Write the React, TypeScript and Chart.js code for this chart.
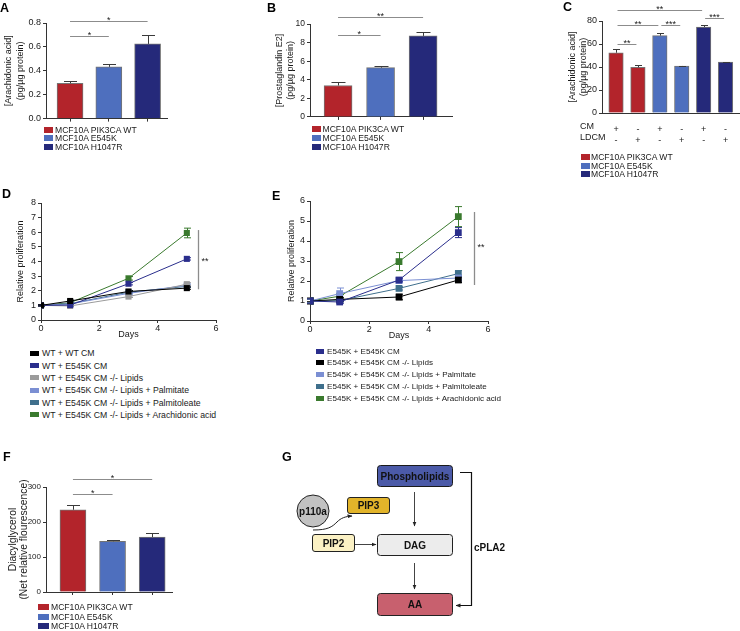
import React, { useEffect, useRef } from 'react';
import { Chart, registerables } from 'chart.js';
Chart.register(...registerables);

const FONT = '"Liberation Sans", Arial, Helvetica, sans-serif';
const INK = '#1a1a1a';
const AXIS = '#333333';

// ---------- shared ----------
const cellLines = ['MCF10A PIK3CA WT', 'MCF10A E545K', 'MCF10A H1047R'];
const RED = '#b3242b';
const BLUE = '#4e6fbe';
const NAVY = '#25297a';
const cellColors = [RED, BLUE, NAVY];

// ---------- panel A ----------
const aValues = [0.296, 0.433, 0.625];
const aErrors = [0.016, 0.027, 0.071];
const aYTicks = [0, 0.2, 0.4, 0.6, 0.8];
const aSig = [
  { from: 0, to: 1, at: 0.69, label: '*' },
  { from: 0, to: 2, at: 0.82, label: '*' },
];
const aYTitle = ['[Arachidonic acid]', '(pg/µg protein)'];

// ---------- panel B ----------
const bValues = [3.38, 5.3, 8.72];
const bErrors = [0.42, 0.22, 0.38];
const bYTicks = [0, 2, 4, 6, 8, 10];
const bSig = [
  { from: 0, to: 1, at: 8.83, label: '*' },
  { from: 0, to: 2, at: 10.78, label: '**' },
];
const bYTitle = ['[Prostaglandin E2]', '(pg/µg protein)'];

// ---------- panel C ----------
const cValues = [52.4, 39.7, 67.3, 40.9, 74.8, 44.3];
const cErrors = [3.6, 1.7, 2.7, 0.3, 2.0, 0.3];
const cColors = [RED, RED, BLUE, BLUE, NAVY, NAVY];
const cCM = ['+', '-', '+', '-', '+', '-'];
const cLDCM = ['-', '+', '-', '+', '-', '+'];
const cRowNames = ['CM', 'LDCM'];
const cYTicks = [0, 20, 40, 60, 80];
const cSig = [
  { from: 0, to: 1, at: 60.4, label: '**' },
  { from: 0, to: 2, at: 76.3, label: '**' },
  { from: 2, to: 3, at: 76.3, label: '***' },
  { from: 0, to: 4, at: 89.8, label: '**' },
  { from: 4, to: 5, at: 82.9, label: '***' },
];
const cYTitle = ['[Arachidonic acid]', '(pg/µg protein)'];

// ---------- panel D ----------
const days = [0, 1, 3, 5];
const dayTicks = [0, 2, 4, 6];
const dYTicks = [0, 1, 2, 3, 4, 5, 6, 7, 8];
const dLabels = [
  'WT + WT CM',
  'WT + E545K CM',
  'WT + E545K CM -/- Lipids',
  'WT + E545K CM -/- Lipids + Palmitate',
  'WT + E545K CM -/- Lipids + Palmitoleate',
  'WT + E545K CM -/- Lipids + Arachidonic acid',
];
const dColors = ['#000000', '#2a2e8c', '#9b9b9b', '#7b8fd3', '#3f6f8c', '#3a7a2e'];
const dWtCm = [1, 1.3, 1.95, 2.18];
const dE545kCm = [1, 1.02, 2.48, 4.18];
const dLipids = [1, 0.96, 1.6, 2.45];
const dPalmitate = [1, 1.1, 1.82, 2.38];
const dPalmitoleate = [1, 1.12, 1.9, 2.3];
const dArachidonic = [1, 1.18, 2.85, 5.95];
const dWtCmErr = [0.04, 0.06, 0.06, 0.08];
const dE545kCmErr = [0.04, 0.05, 0.08, 0.08];
const dLipidsErr = [0.04, 0.05, 0.06, 0.1];
const dPalmitateErr = [0.04, 0.05, 0.06, 0.08];
const dPalmitoleateErr = [0.04, 0.05, 0.06, 0.08];
const dArachidonicErr = [0.04, 0.06, 0.12, 0.33];
const dSig = { x: 5.38, from: 2.1, to: 6.15, labelAt: 4.2, label: '**' };

// ---------- panel E ----------
const eYTicks = [0, 1, 2, 3, 4, 5, 6];
const eLabels = [
  'E545K + E545K CM',
  'E545K + E545K CM -/- Lipids',
  'E545K + E545K CM -/- Lipids + Palmitate',
  'E545K + E545K CM -/- Lipids + Palmitoleate',
  'E545K + E545K CM -/- Lipids + Arachidonic acid',
];
const eColors = ['#2a2e8c', '#000000', '#7b8fd3', '#3f6f8c', '#3a7a2e'];
const eE545kCm = [1, 0.95, 2.05, 4.42];
const eLipids = [1, 1.08, 1.2, 2.05];
const ePalmitate = [1, 1.37, 2.02, 2.15];
const ePalmitoleate = [1, 1.02, 1.63, 2.37];
const eArachidonic = [1, 1.24, 2.97, 5.22];
const eE545kCmErr = [0.1, 0.06, 0.08, 0.25];
const eLipidsErr = [0.15, 0.08, 0.14, 0.12];
const ePalmitateErr = [0.12, 0.28, 0.08, 0.15];
const ePalmitoleateErr = [0.1, 0.06, 0.08, 0.15];
const eArachidonicErr = [0.1, 0.08, 0.45, 0.5];
const eSig = { x: 5.53, from: 1.8, to: 5.45, labelAt: 3.8, label: '**' };

// ---------- panel F ----------
const fValues = [235, 145, 157];
const fErrors = [15, 3, 11.6];
const fYTicks = [0, 100, 200, 300];
const fSig = [
  { from: 0, to: 1, at: 280, label: '*' },
  { from: 0, to: 2, at: 323, label: '*' },
];
const fYTitle = ['Diacylglycerol', '(Net relative flourescence)'];

type Box = { left: number; top: number; width: number; height: number };
type Area = { l: number; t: number; r: number; b: number };
type Sig = { from: number; to: number; at: number; label: string };

function layout(box: Box, area: Area, titleX: number, titleLH: number, hx: number) {
  const padLeft = titleX - box.left - titleLH / 2;
  return {
    padding: {
      left: padLeft,
      top: area.t - box.top,
      right: box.left + box.width - area.r,
      bottom: box.top + box.height - area.b - hx,
    },
    wy: area.l - box.left - padLeft,
  };
}

function barConfig(p: {
  box: Box; area: Area; values: number[]; errors: number[]; colors: string[];
  yTicks: number[]; decimals: number; sig: Sig[]; yTitle: string[]; titleX: number; titleLH: number;
  titleSize: number; tickSize: number; barW: number; capW: number; xMin: number; xMax: number; hx: number;
  xTickMarks: boolean; xLabels?: string[][]; xLabelPad?: number; xLabelLH?: number; sigInset: number; sigFont: number;
}): any {
  const L = layout(p.box, p.area, p.titleX, p.titleLH, p.hx);
  const idx = p.values.map((_, i) => i);
  const extras = {
    id: 'barExtras',
    afterDatasetsDraw(chart: any) {
      const { ctx } = chart;
      const x = chart.scales.x;
      const y = chart.scales.y;
      ctx.save();
      ctx.strokeStyle = '#3a3a3a';
      ctx.lineWidth = 1;
      p.values.forEach((v, i) => {
        const px = Math.round(x.getPixelForValue(i)) + 0.5;
        const y0 = y.getPixelForValue(v);
        const y1 = Math.round(y.getPixelForValue(v + p.errors[i])) + 0.5;
        ctx.beginPath();
        ctx.moveTo(px, y0);
        ctx.lineTo(px, y1);
        ctx.moveTo(px - p.capW / 2, y1);
        ctx.lineTo(px + p.capW / 2, y1);
        ctx.stroke();
      });
      ctx.strokeStyle = '#8c8c8c';
      ctx.fillStyle = INK;
      ctx.font = `${p.sigFont}px ${FONT}`;
      ctx.textAlign = 'center';
      ctx.textBaseline = 'alphabetic';
      p.sig.forEach((s) => {
        const xa = x.getPixelForValue(s.from) + p.sigInset;
        const xb = x.getPixelForValue(s.to) - p.sigInset;
        const py = Math.round(y.getPixelForValue(s.at)) + 0.5;
        ctx.beginPath();
        ctx.moveTo(xa, py);
        ctx.lineTo(xb, py);
        ctx.stroke();
        ctx.fillText(s.label, (xa + xb) / 2, py + 1.5);
      });
      ctx.restore();
    },
  };
  return {
    type: 'bar',
    data: {
      datasets: [
        {
          data: p.values.map((v, i) => ({ x: i, y: v })),
          backgroundColor: p.colors,
          borderColor: 'rgba(70,70,70,0.75)',
          borderWidth: 1,
          barThickness: p.barW,
        },
      ],
    },
    plugins: [extras],
    options: {
      responsive: false,
      maintainAspectRatio: false,
      animation: false,
      devicePixelRatio: 1,
      layout: { padding: L.padding },
      plugins: { legend: { display: false }, tooltip: { enabled: false } },
      scales: {
        x: {
          type: 'linear',
          min: p.xMin,
          max: p.xMax,
          offset: false,
          grid: { display: p.xTickMarks, drawOnChartArea: false, drawTicks: true, tickLength: 3, color: AXIS, offset: false },
          border: { display: true, color: AXIS, width: 1 },
          ticks: {
            display: !!p.xLabels,
            autoSkip: false,
            maxRotation: 0,
            padding: p.xLabelPad || 0,
            color: INK,
            font: { family: FONT, size: p.tickSize, lineHeight: p.xLabelLH || 1.2 },
            callback: (v: any) => (p.xLabels ? p.xLabels[v] : ''),
          },
          afterBuildTicks: (s: any) => {
            s.ticks = idx.map((v) => ({ value: v }));
          },
          afterFit: (s: any) => {
            s.height = p.hx;
          },
        },
        y: {
          type: 'linear',
          min: p.yTicks[0],
          max: p.yTicks[p.yTicks.length - 1],
          grid: { drawOnChartArea: false, drawTicks: true, tickLength: 3, color: AXIS },
          border: { display: true, color: AXIS, width: 1 },
          ticks: {
            padding: 2,
            color: INK,
            font: { family: FONT, size: p.tickSize },
            callback: (v: any) => Number(v).toFixed(p.decimals),
          },
          afterBuildTicks: (s: any) => {
            s.ticks = p.yTicks.map((v) => ({ value: v }));
          },
          afterFit: (s: any) => {
            s.width = L.wy;
          },
          title: {
            display: true,
            text: p.yTitle,
            color: INK,
            padding: 0,
            font: { family: FONT, size: p.titleSize, lineHeight: p.titleLH / p.titleSize },
          },
        },
      },
    },
  };
}

function lineConfig(p: {
  box: Box; area: Area; labels: string[]; colors: string[]; series: number[][]; errors: number[][];
  yTicks: number[]; titleX: number; titleLH: number; hx: number; pointR: number;
  sig: { x: number; from: number; to: number; labelAt: number; label: string };
}): any {
  const L = layout(p.box, p.area, p.titleX, p.titleLH, p.hx);
  const extras = {
    id: 'lineExtras',
    beforeDatasetsDraw(chart: any) {
      const { ctx } = chart;
      const x = chart.scales.x;
      const y = chart.scales.y;
      ctx.save();
      ctx.lineWidth = 1;
      for (let s = p.series.length - 1; s >= 0; s--) {
        ctx.strokeStyle = p.colors[s];
        p.series[s].forEach((v, i) => {
          const e = p.errors[s][i];
          const px = Math.round(x.getPixelForValue(days[i])) + 0.5;
          const ya = y.getPixelForValue(v + e);
          const yb = y.getPixelForValue(v - e);
          ctx.beginPath();
          ctx.moveTo(px, ya);
          ctx.lineTo(px, yb);
          ctx.moveTo(px - 3.5, ya);
          ctx.lineTo(px + 3.5, ya);
          ctx.moveTo(px - 3.5, yb);
          ctx.lineTo(px + 3.5, yb);
          ctx.stroke();
        });
      }
      ctx.restore();
    },
    afterDatasetsDraw(chart: any) {
      const { ctx } = chart;
      const x = chart.scales.x;
      const y = chart.scales.y;
      ctx.save();
      const px = Math.round(x.getPixelForValue(p.sig.x)) + 0.5;
      ctx.strokeStyle = '#8c8c8c';
      ctx.lineWidth = 1.3;
      ctx.beginPath();
      ctx.moveTo(px, y.getPixelForValue(p.sig.to));
      ctx.lineTo(px, y.getPixelForValue(p.sig.from));
      ctx.stroke();
      ctx.fillStyle = INK;
      ctx.font = `9px ${FONT}`;
      ctx.textAlign = 'left';
      ctx.textBaseline = 'alphabetic';
      ctx.fillText(p.sig.label, px + 3, y.getPixelForValue(p.sig.labelAt) + 5);
      ctx.restore();
    },
  };
  return {
    type: 'line',
    data: {
      datasets: p.series.map((vals, s) => ({
        label: p.labels[s],
        data: vals.map((v, i) => ({ x: days[i], y: v })),
        borderColor: p.colors[s],
        backgroundColor: p.colors[s],
        pointBackgroundColor: p.colors[s],
        pointBorderColor: p.colors[s],
        pointBorderWidth: 0,
        borderWidth: 1,
        pointStyle: 'rect',
        pointRadius: p.pointR,
        tension: 0,
      })),
    },
    plugins: [extras],
    options: {
      responsive: false,
      maintainAspectRatio: false,
      animation: false,
      devicePixelRatio: 1,
      layout: { padding: L.padding },
      plugins: { legend: { display: false }, tooltip: { enabled: false } },
      scales: {
        x: {
          type: 'linear',
          min: dayTicks[0],
          max: dayTicks[dayTicks.length - 1],
          grid: { drawOnChartArea: false, drawTicks: true, tickLength: 3, color: AXIS },
          border: { display: true, color: AXIS, width: 1 },
          ticks: { padding: 0, color: INK, font: { family: FONT, size: 9 }, maxRotation: 0, autoSkip: false },
          afterBuildTicks: (s: any) => {
            s.ticks = dayTicks.map((v) => ({ value: v }));
          },
          afterFit: (s: any) => {
            s.height = p.hx;
          },
          title: { display: true, text: 'Days', color: INK, padding: 0, font: { family: FONT, size: 9, lineHeight: 11 / 9 } },
        },
        y: {
          type: 'linear',
          min: p.yTicks[0],
          max: p.yTicks[p.yTicks.length - 1],
          grid: { drawOnChartArea: false, drawTicks: true, tickLength: 3, color: AXIS },
          border: { display: true, color: AXIS, width: 1 },
          ticks: { padding: 2, color: INK, font: { family: FONT, size: 9 } },
          afterBuildTicks: (s: any) => {
            s.ticks = p.yTicks.map((v) => ({ value: v }));
          },
          afterFit: (s: any) => {
            s.width = L.wy;
          },
          title: {
            display: true,
            text: 'Relative proliferation',
            color: INK,
            padding: 0,
            font: { family: FONT, size: 9, lineHeight: p.titleLH / 9 },
          },
        },
      },
    },
  };
}

function ChartCanvas({ box, make }: { box: Box; make: () => any }) {
  const ref = useRef<HTMLCanvasElement>(null);
  useEffect(() => {
    const chart = new Chart(ref.current as HTMLCanvasElement, make());
    return () => chart.destroy();
  }, []);
  return (
    <canvas
      ref={ref}
      width={box.width}
      height={box.height}
      style={{ position: 'absolute', left: box.left, top: box.top, width: box.width, height: box.height }}
    />
  );
}

function Legend(p: { labels: string[]; colors: string[]; x: number; y0: number; step: number; size: number; sw: number; sh: number; gap: number }) {
  return (
    <>
      {p.labels.map((l, i) => (
        <div
          key={i}
          style={{
            position: 'absolute',
            left: p.x,
            top: p.y0 + i * p.step - 7,
            height: 14,
            display: 'flex',
            alignItems: 'center',
            whiteSpace: 'nowrap',
            fontFamily: FONT,
            fontSize: p.size,
            color: INK,
          }}
        >
          <span style={{ display: 'inline-block', width: p.sw, height: p.sh, background: p.colors[i], marginRight: p.gap }} />
          {l}
        </div>
      ))}
    </>
  );
}

function PanelLetter({ t, x, capTop }: { t: string; x: number; capTop: number }) {
  return (
    <div style={{ position: 'absolute', left: x, top: capTop - 1.7, fontFamily: FONT, fontWeight: 'bold', fontSize: 12.5, lineHeight: '12.5px', color: '#000' }}>
      {t}
    </div>
  );
}

function Diagram() {
  const tx = { fontFamily: FONT, fontWeight: 700, fontSize: 10, fill: '#111' } as any;
  return (
    <svg width={740} height={631} style={{ position: 'absolute', left: 0, top: 0 }}>
      <defs>
        <marker id="ah" viewBox="0 0 10 10" refX="9" refY="5" markerWidth="5" markerHeight="5" orient="auto-start-reverse" markerUnits="userSpaceOnUse">
          <path d="M0,1 L10,5 L0,9 z" fill="#222" />
        </marker>
      </defs>
      <rect x={377.5} y={465.5} width={75} height={21} rx={3} fill="#4b5aa8" stroke="#1a1a1a" strokeWidth={1} />
      <text x={415} y={479.5} textAnchor="middle" {...tx}>Phospholipids</text>
      <polyline points="460,472.5 471.5,472.5 471.5,605.5 456,605.5" fill="none" stroke="#111" strokeWidth={1.2} markerEnd="url(#ah)" />
      <text x={474} y={550.5} {...tx}>cPLA2</text>
      <line x1={414.5} y1={492} x2={414.5} y2={526} stroke="#444" strokeWidth={1} markerEnd="url(#ah)" />
      <circle cx={313} cy={511} r={16} fill="#c2c2c2" stroke="#222" strokeWidth={1} />
      <text x={313} y={514.5} textAnchor="middle" {...tx}>p110a</text>
      <rect x={347.5} y={497.5} width={42} height={16} rx={2.5} fill="#e2b42a" stroke="#222" strokeWidth={1} />
      <text x={368.5} y={509} textAnchor="middle" {...tx}>PIP3</text>
      <path d="M313,530 C328,530 332,527 337,522 C341,518 345,516.5 352,516" fill="none" stroke="#222" strokeWidth={1} markerEnd="url(#ah)" />
      <rect x={312.5} y={534.5} width={42} height={17} rx={2.5} fill="#fbf1c4" stroke="#222" strokeWidth={1} />
      <text x={333.5} y={546.5} textAnchor="middle" {...tx}>PIP2</text>
      <line x1={355} y1={544.5} x2={376} y2={544.5} stroke="#444" strokeWidth={1} markerEnd="url(#ah)" />
      <rect x={377.5} y={534.5} width={75} height={21} rx={3} fill="#ececec" stroke="#222" strokeWidth={1} />
      <text x={415} y={548.5} textAnchor="middle" {...tx}>DAG</text>
      <line x1={414.5} y1={563} x2={414.5} y2={589} stroke="#444" strokeWidth={1} markerEnd="url(#ah)" />
      <rect x={377.5} y={593.5} width={75} height={22} rx={3} fill="#c8606e" stroke="#222" strokeWidth={1} />
      <text x={415} y={608} textAnchor="middle" {...tx}>AA</text>
    </svg>
  );
}

const boxA: Box = { left: 0, top: 0, width: 172, height: 126 };
const boxB: Box = { left: 262, top: 0, width: 195, height: 124 };
const boxC: Box = { left: 560, top: 0, width: 180, height: 145 };
const boxD: Box = { left: 0, top: 185, width: 225, height: 160 };
const boxE: Box = { left: 270, top: 185, width: 230, height: 160 };
const boxF: Box = { left: 0, top: 468, width: 178, height: 145 };

export default function App() {
  return (
    <div style={{ position: 'absolute', left: 0, top: 0, width: 740, height: 631, background: '#fff', overflow: 'hidden' }}>
      <ChartCanvas
        box={boxA}
        make={() =>
          barConfig({
            box: boxA, area: { l: 46, t: 23, r: 167, b: 120 }, values: aValues, errors: aErrors, colors: cellColors,
            yTicks: aYTicks, decimals: 1, sig: aSig, yTitle: aYTitle, titleX: 9, titleLH: 11.5, titleSize: 9,
            tickSize: 9, barW: 26, capW: 13, xMin: -0.62, xMax: 2.5, hx: 4, xTickMarks: true, sigInset: 0, sigFont: 9,
          })
        }
      />
      <ChartCanvas
        box={boxB}
        make={() =>
          barConfig({
            box: boxB, area: { l: 310, t: 24, r: 452, b: 118 }, values: bValues, errors: bErrors, colors: cellColors,
            yTicks: bYTicks, decimals: 0, sig: bSig, yTitle: bYTitle, titleX: 280, titleLH: 10.5, titleSize: 9,
            tickSize: 8.5, barW: 28, capW: 14, xMin: -0.66, xMax: 2.68, hx: 4, xTickMarks: true, sigInset: 0, sigFont: 9,
          })
        }
      />
      <ChartCanvas
        box={boxC}
        make={() =>
          barConfig({
            box: boxC, area: { l: 602, t: 21, r: 740, b: 113 }, values: cValues, errors: cErrors, colors: cColors,
            yTicks: cYTicks, decimals: 0, sig: cSig, yTitle: cYTitle, titleX: 573, titleLH: 11, titleSize: 9,
            tickSize: 9, barW: 14.5, capW: 7, xMin: -0.64, xMax: 5.66, hx: 32, xTickMarks: false,
            xLabels: cCM.map((v, i) => [v, cLDCM[i]]), xLabelPad: 8, xLabelLH: 11 / 9, sigInset: 1.5, sigFont: 9,
          })
        }
      />
      <div style={{ position: 'absolute', left: 580, top: 121, fontFamily: FONT, fontSize: 9, lineHeight: '11px', color: INK }}>
        {cRowNames.map((n) => (
          <div key={n}>{n}</div>
        ))}
      </div>
      <ChartCanvas
        box={boxD}
        make={() =>
          lineConfig({
            box: boxD, area: { l: 41, t: 203, r: 216, b: 320 }, labels: dLabels, colors: dColors,
            series: [dWtCm, dE545kCm, dLipids, dPalmitate, dPalmitoleate, dArachidonic],
            errors: [dWtCmErr, dE545kCmErr, dLipidsErr, dPalmitateErr, dPalmitoleateErr, dArachidonicErr],
            yTicks: dYTicks, titleX: 20.5, titleLH: 11, hx: 20.5, pointR: 4.3, sig: dSig,
          })
        }
      />
      <ChartCanvas
        box={boxE}
        make={() =>
          lineConfig({
            box: boxE, area: { l: 310, t: 201, r: 488, b: 321 }, labels: eLabels, colors: eColors,
            series: [eE545kCm, eLipids, ePalmitate, ePalmitoleate, eArachidonic],
            errors: [eE545kCmErr, eLipidsErr, ePalmitateErr, ePalmitoleateErr, eArachidonicErr],
            yTicks: eYTicks, titleX: 291.5, titleLH: 11, hx: 20, pointR: 4.8, sig: eSig,
          })
        }
      />
      <ChartCanvas
        box={boxF}
        make={() =>
          barConfig({
            box: boxF, area: { l: 46, t: 487, r: 172, b: 592 }, values: fValues, errors: fErrors, colors: cellColors,
            yTicks: fYTicks, decimals: 0, sig: fSig, yTitle: fYTitle, titleX: 13, titleLH: 11.5, titleSize: 10.3,
            tickSize: 8, barW: 26, capW: 13, xMin: -0.68, xMax: 2.5, hx: 4, xTickMarks: true, sigInset: 0, sigFont: 9,
          })
        }
      />
      <Legend labels={cellLines} colors={cellColors} x={44} y0={129.8} step={8.5} size={8.6} sw={9} sh={6} gap={2} />
      <Legend labels={cellLines} colors={cellColors} x={312} y0={128.5} step={9.1} size={8.6} sw={8.5} sh={6} gap={2} />
      <Legend labels={cellLines} colors={cellColors} x={581} y0={156.7} step={8.8} size={8.6} sw={9} sh={6} gap={1} />
      <Legend labels={dLabels} colors={dColors} x={30} y0={353.3} step={12.3} size={8.7} sw={9} sh={5} gap={3} />
      <Legend labels={eLabels} colors={eColors} x={316} y0={351} step={11.9} size={8.1} sw={8} sh={5} gap={3} />
      <Legend labels={cellLines} colors={cellColors} x={38} y0={607.3} step={9.4} size={8.6} sw={11} sh={6} gap={2} />
      <Diagram />
      <PanelLetter t="A" x={0} capTop={4} />
      <PanelLetter t="B" x={267} capTop={4} />
      <PanelLetter t="C" x={563} capTop={3} />
      <PanelLetter t="D" x={2} capTop={190} />
      <PanelLetter t="E" x={272} capTop={192} />
      <PanelLetter t="F" x={3} capTop={453} />
      <PanelLetter t="G" x={282} capTop={453} />
    </div>
  );
}
